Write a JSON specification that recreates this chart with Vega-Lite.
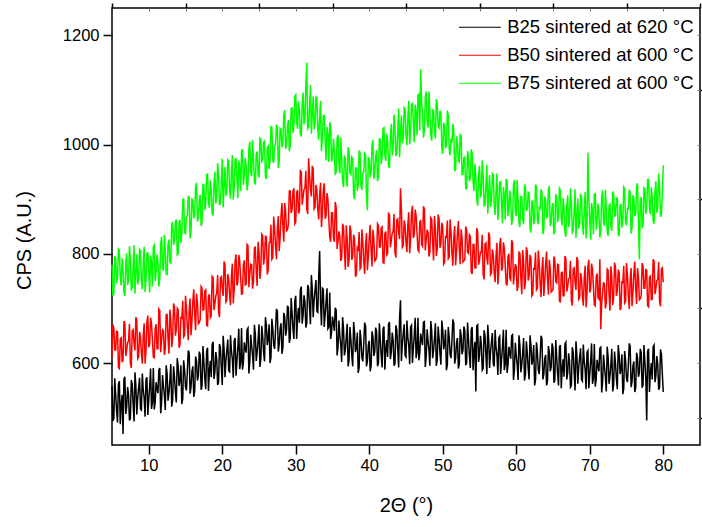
{
"$schema": "https://vega.github.io/schema/vega-lite/v6.json",
"width": 588, "height": 437,
"autosize": {"type": "none"},
"padding": {"left": 112, "top": 8, "right": 2, "bottom": 82},
"config": {
  "view": {"stroke": "#000000", "strokeWidth": 1.5},
  "font": "Liberation Sans",
  "axis": {"labelFont": "Liberation Sans", "titleFont": "Liberation Sans", "labelColor": "#000000", "titleColor": "#000000", "tickColor": "#000000", "grid": false, "domain": false, "titleFontWeight": "normal"}
},
"datasets": {
"ax": [{"x": 5, "y": 450}],
"xrd": [
{"x":5,"B25":558,"B50":610,"B75":780},{"x":5.25,"B25":499,"B50":664,"B75":727},{"x":5.5,"B25":543,"B50":624,"B75":792},{"x":5.75,"B25":491,"B50":657,"B75":757},
{"x":6,"B25":567,"B50":590,"B75":807},{"x":6.25,"B25":525,"B50":646,"B75":742},{"x":6.5,"B25":470,"B50":604,"B75":773},{"x":6.75,"B25":575,"B50":673,"B75":723},
{"x":7,"B25":520,"B50":624,"B75":801},{"x":7.25,"B25":542,"B50":640,"B75":754},{"x":7.5,"B25":499,"B50":600,"B75":789},{"x":7.75,"B25":561,"B50":659,"B75":738},
{"x":8,"B25":493,"B50":636,"B75":816},{"x":8.25,"B25":557,"B50":684,"B75":767},{"x":8.5,"B25":536,"B50":608,"B75":744},{"x":8.75,"B25":573,"B50":657,"B75":808},
{"x":9,"B25":514,"B50":617,"B75":753},{"x":9.25,"B25":551,"B50":650,"B75":781},{"x":9.5,"B25":502,"B50":599,"B75":730},{"x":9.75,"B25":574,"B50":675,"B75":801},
{"x":10,"B25":533,"B50":629,"B75":766},{"x":10.25,"B25":590,"B50":683,"B75":797},{"x":10.5,"B25":528,"B50":643,"B75":740},{"x":10.75,"B25":515,"B50":610,"B75":816},
{"x":11,"B25":565,"B50":671,"B75":766},{"x":11.25,"B25":545,"B50":626,"B75":784},{"x":11.5,"B25":591,"B50":696,"B75":755},{"x":11.75,"B25":529,"B50":643,"B75":831},
{"x":12,"B25":558,"B50":659,"B75":769},{"x":12.25,"B25":514,"B50":627,"B75":804},{"x":12.5,"B25":580,"B50":689,"B75":762},{"x":12.75,"B25":546,"B50":617,"B75":826},
{"x":13,"B25":598,"B50":679,"B75":783},{"x":13.25,"B25":533,"B50":646,"B75":857},{"x":13.5,"B25":575,"B50":703,"B75":825},{"x":13.75,"B25":528,"B50":661,"B75":863},
{"x":14,"B25":594,"B50":697,"B75":800},{"x":14.25,"B25":569,"B50":634,"B75":862},{"x":14.5,"B25":525,"B50":682,"B75":836},{"x":14.75,"B25":605,"B50":648,"B75":900},
{"x":15,"B25":557,"B50":723,"B75":837},{"x":15.25,"B25":584,"B50":666,"B75":870},{"x":15.5,"B25":618,"B50":696,"B75":904},{"x":15.75,"B25":556,"B50":651,"B75":840},
{"x":16,"B25":594,"B50":713,"B75":898},{"x":16.25,"B25":548,"B50":689,"B75":872},{"x":16.5,"B25":603,"B50":727,"B75":930},{"x":16.75,"B25":577,"B50":672,"B75":867},
{"x":17,"B25":615,"B50":680,"B75":908},{"x":17.25,"B25":558,"B50":737,"B75":858},{"x":17.5,"B25":602,"B50":698,"B75":926},{"x":17.75,"B25":552,"B50":734,"B75":893},
{"x":18,"B25":628,"B50":668,"B75":946},{"x":18.25,"B25":587,"B50":726,"B75":884},{"x":18.5,"B25":574,"B50":686,"B75":917},{"x":18.75,"B25":639,"B50":757,"B75":870},
{"x":19,"B25":584,"B50":709,"B75":950},{"x":19.25,"B25":607,"B50":729,"B75":906},{"x":19.5,"B25":565,"B50":693,"B75":943},{"x":19.75,"B25":628,"B50":756,"B75":894},
{"x":20,"B25":560,"B50":736,"B75":974},{"x":20.25,"B25":625,"B50":786,"B75":927},{"x":20.5,"B25":605,"B50":712,"B75":906},{"x":20.75,"B25":643,"B50":763,"B75":972},
{"x":21,"B25":584,"B50":724,"B75":919},{"x":21.25,"B25":622,"B50":759,"B75":949},{"x":21.5,"B25":573,"B50":709,"B75":899},{"x":21.75,"B25":646,"B50":787,"B75":973},
{"x":22,"B25":605,"B50":742,"B75":939},{"x":22.25,"B25":663,"B50":798,"B75":971},{"x":22.5,"B25":601,"B50":758,"B75":915},{"x":22.75,"B25":588,"B50":727,"B75":992},
{"x":23,"B25":638,"B50":788,"B75":943},{"x":23.25,"B25":619,"B50":744,"B75":960},{"x":23.5,"B25":664,"B50":815,"B75":930},{"x":23.75,"B25":603,"B50":763,"B75":1005},
{"x":24,"B25":631,"B50":780,"B75":942},{"x":24.25,"B25":588,"B50":749,"B75":973},{"x":24.5,"B25":653,"B50":812,"B75":927},{"x":24.75,"B25":620,"B50":741,"B75":987},
{"x":25,"B25":671,"B50":804,"B75":940},{"x":25.25,"B25":607,"B50":773,"B75":1010},{"x":25.5,"B25":649,"B50":833,"B75":972},{"x":25.75,"B25":603,"B50":793,"B75":1006},
{"x":26,"B25":669,"B50":831,"B75":937},{"x":26.25,"B25":644,"B50":771,"B75":997},{"x":26.5,"B25":600,"B50":821,"B75":970},{"x":26.75,"B25":681,"B50":790,"B75":1032},
{"x":27,"B25":633,"B50":868,"B75":967},{"x":27.25,"B25":660,"B50":814,"B75":1000},{"x":27.5,"B25":695,"B50":847,"B75":1033},{"x":27.75,"B25":634,"B50":805,"B75":970},
{"x":28,"B25":673,"B50":871,"B75":1028},{"x":28.25,"B25":628,"B50":851,"B75":1004},{"x":28.5,"B25":685,"B50":893,"B75":1063},{"x":28.75,"B25":661,"B50":842,"B75":1002},
{"x":29,"B25":701,"B50":855,"B75":1045},{"x":29.25,"B25":646,"B50":915,"B75":997},{"x":29.5,"B25":692,"B50":881,"B75":1067},{"x":29.75,"B25":644,"B50":920,"B75":1036},
{"x":30,"B25":723,"B50":858,"B75":1091},{"x":30.25,"B25":684,"B50":917,"B75":1029},{"x":30.5,"B25":674,"B50":879,"B75":1062},{"x":30.75,"B25":740,"B50":950,"B75":1015},
{"x":31,"B25":688,"B50":904,"B75":1095},{"x":31.25,"B25":712,"B50":920,"B75":1048},{"x":31.5,"B25":673,"B50":882,"B75":1150},{"x":31.75,"B25":737,"B50":975,"B75":1032},
{"x":32,"B25":671,"B50":918,"B75":1109},{"x":32.25,"B25":735,"B50":961,"B75":1056},{"x":32.5,"B25":715,"B50":882,"B75":1028},{"x":32.75,"B25":752,"B50":926,"B75":1087},
{"x":33,"B25":693,"B50":881,"B75":1027},{"x":33.25,"B25":805,"B50":907,"B75":1048},{"x":33.5,"B25":669,"B50":849,"B75":988},{"x":33.75,"B25":735,"B50":917,"B75":1052},
{"x":34,"B25":688,"B50":864,"B75":1008},{"x":34.25,"B25":737,"B50":911,"B75":1032},{"x":34.5,"B25":666,"B50":863,"B75":968},{"x":34.75,"B25":644,"B50":822,"B75":1035},
{"x":35,"B25":685,"B50":875,"B75":978},{"x":35.25,"B25":659,"B50":822,"B75":988},{"x":35.5,"B25":697,"B50":885,"B75":950},{"x":35.75,"B25":629,"B50":823,"B75":1018},
{"x":36,"B25":650,"B50":831,"B75":947},{"x":36.25,"B25":602,"B50":793,"B75":973},{"x":36.5,"B25":663,"B50":849,"B75":922},{"x":36.75,"B25":625,"B50":771,"B75":975},
{"x":37,"B25":672,"B50":826,"B75":923},{"x":37.25,"B25":605,"B50":789,"B75":988},{"x":37.5,"B25":643,"B50":842,"B75":945},{"x":37.75,"B25":594,"B50":796,"B75":974},
{"x":38,"B25":656,"B50":827,"B75":900},{"x":38.25,"B25":629,"B50":762,"B75":957},{"x":38.5,"B25":582,"B50":808,"B75":926},{"x":38.75,"B25":661,"B50":772,"B75":985},
{"x":39,"B25":610,"B50":845,"B75":917},{"x":39.25,"B25":635,"B50":787,"B75":949},{"x":39.5,"B25":668,"B50":816,"B75":981},{"x":39.75,"B25":604,"B50":770,"B75":880},
{"x":40,"B25":641,"B50":831,"B75":973},{"x":40.25,"B25":594,"B50":806,"B75":949},{"x":40.5,"B25":648,"B50":844,"B75":1008},{"x":40.75,"B25":621,"B50":787,"B75":947},
{"x":41,"B25":658,"B50":795,"B75":990},{"x":41.25,"B25":600,"B50":852,"B75":941},{"x":41.5,"B25":643,"B50":813,"B75":1010},{"x":41.75,"B25":592,"B50":849,"B75":977},
{"x":42,"B25":667,"B50":783,"B75":1031},{"x":42.25,"B25":625,"B50":841,"B75":970},{"x":42.5,"B25":611,"B50":801,"B75":1004},{"x":42.75,"B25":675,"B50":872,"B75":957},
{"x":43,"B25":620,"B50":824,"B75":1038},{"x":43.25,"B25":642,"B50":841,"B75":995},{"x":43.5,"B25":599,"B50":802,"B75":1033},{"x":43.75,"B25":661,"B50":862,"B75":985},
{"x":44,"B25":592,"B50":840,"B75":1066},{"x":44.25,"B25":715,"B50":920,"B75":1021},{"x":44.5,"B25":635,"B50":812,"B75":1002},{"x":44.75,"B25":671,"B50":861,"B75":1068},
{"x":45,"B25":611,"B50":821,"B75":1017},{"x":45.25,"B25":647,"B50":853,"B75":1048},{"x":45.5,"B25":598,"B50":801,"B75":1000},{"x":45.75,"B25":669,"B50":876,"B75":1074},
{"x":46,"B25":627,"B50":829,"B75":1041},{"x":46.25,"B25":683,"B50":881,"B75":1073},{"x":46.5,"B25":620,"B50":839,"B75":1017},{"x":46.75,"B25":605,"B50":804,"B75":1092},
{"x":47,"B25":654,"B50":862,"B75":1138},{"x":47.25,"B25":633,"B50":814,"B75":1057},{"x":47.5,"B25":676,"B50":882,"B75":1025},{"x":47.75,"B25":613,"B50":826,"B75":1097},
{"x":48,"B25":640,"B50":839,"B75":1031},{"x":48.25,"B25":595,"B50":804,"B75":1058},{"x":48.5,"B25":658,"B50":863,"B75":1007},{"x":48.75,"B25":623,"B50":788,"B75":1062},
{"x":49,"B25":673,"B50":846,"B75":1011},{"x":49.25,"B25":606,"B50":809,"B75":1074},{"x":49.5,"B25":646,"B50":864,"B75":1030},{"x":49.75,"B25":597,"B50":818,"B75":1058},
{"x":50,"B25":661,"B50":850,"B75":983},{"x":50.25,"B25":634,"B50":784,"B75":1035},{"x":50.5,"B25":587,"B50":829,"B75":999},{"x":50.75,"B25":666,"B50":791,"B75":1053},
{"x":51,"B25":616,"B50":863,"B75":980},{"x":51.25,"B25":641,"B50":802,"B75":1003},{"x":51.5,"B25":673,"B50":829,"B75":1027},{"x":51.75,"B25":609,"B50":779,"B75":955},
{"x":52,"B25":646,"B50":838,"B75":1003},{"x":52.25,"B25":598,"B50":810,"B75":968},{"x":52.5,"B25":651,"B50":845,"B75":1016},{"x":52.75,"B25":623,"B50":785,"B75":945},
{"x":53,"B25":660,"B50":790,"B75":977},{"x":53.25,"B25":601,"B50":843,"B75":919},{"x":53.5,"B25":643,"B50":801,"B75":979},{"x":53.75,"B25":591,"B50":832,"B75":939},
{"x":54,"B25":666,"B50":763,"B75":984},{"x":54.25,"B25":622,"B50":817,"B75":915},{"x":54.5,"B25":548,"B50":774,"B75":941},{"x":54.75,"B25":670,"B50":840,"B75":888},
{"x":55,"B25":614,"B50":789,"B75":961},{"x":55.25,"B25":634,"B50":803,"B75":911},{"x":55.5,"B25":590,"B50":762,"B75":942},{"x":55.75,"B25":650,"B50":818,"B75":889},
{"x":56,"B25":580,"B50":793,"B75":963},{"x":56.25,"B25":642,"B50":839,"B75":912},{"x":56.5,"B25":620,"B50":762,"B75":886},{"x":56.75,"B25":655,"B50":808,"B75":947},
{"x":57,"B25":594,"B50":766,"B75":889},{"x":57.25,"B25":629,"B50":797,"B75":915},{"x":57.5,"B25":578,"B50":744,"B75":862},{"x":57.75,"B25":649,"B50":817,"B75":931},
{"x":58,"B25":606,"B50":769,"B75":893},{"x":58.25,"B25":661,"B50":821,"B75":922},{"x":58.5,"B25":598,"B50":778,"B75":863},{"x":58.75,"B25":582,"B50":742,"B75":935},
{"x":59,"B25":630,"B50":800,"B75":883},{"x":59.25,"B25":608,"B50":752,"B75":897},{"x":59.5,"B25":652,"B50":820,"B75":864},{"x":59.75,"B25":588,"B50":763,"B75":935},
{"x":60,"B25":614,"B50":776,"B75":869},{"x":60.25,"B25":569,"B50":741,"B75":897},{"x":60.5,"B25":632,"B50":801,"B75":849},{"x":60.75,"B25":597,"B50":726,"B75":905},
{"x":61,"B25":646,"B50":785,"B75":855},{"x":61.25,"B25":579,"B50":749,"B75":921},{"x":61.5,"B25":619,"B50":804,"B75":881},{"x":61.75,"B25":570,"B50":759,"B75":911},
{"x":62,"B25":633,"B50":792,"B75":839},{"x":62.25,"B25":606,"B50":726,"B75":896},{"x":62.5,"B25":559,"B50":771,"B75":864},{"x":62.75,"B25":638,"B50":734,"B75":923},
{"x":63,"B25":587,"B50":806,"B75":854},{"x":63.25,"B25":611,"B50":745,"B75":883},{"x":63.5,"B25":644,"B50":772,"B75":912},{"x":63.75,"B25":579,"B50":723,"B75":845},
{"x":64,"B25":615,"B50":782,"B75":898},{"x":64.25,"B25":567,"B50":754,"B75":869},{"x":64.5,"B25":620,"B50":789,"B75":922},{"x":64.75,"B25":592,"B50":730,"B75":856},
{"x":65,"B25":628,"B50":735,"B75":893},{"x":65.25,"B25":569,"B50":789,"B75":840},{"x":65.5,"B25":611,"B50":747,"B75":904},{"x":65.75,"B25":559,"B50":780,"B75":868},
{"x":66,"B25":633,"B50":711,"B75":917},{"x":66.25,"B25":590,"B50":766,"B75":852},{"x":66.5,"B25":575,"B50":723,"B75":881},{"x":66.75,"B25":638,"B50":791,"B75":831},
{"x":67,"B25":582,"B50":740,"B75":907},{"x":67.25,"B25":603,"B50":755,"B75":860},{"x":67.5,"B25":559,"B50":714,"B75":893},{"x":67.75,"B25":620,"B50":772,"B75":842},
{"x":68,"B25":550,"B50":747,"B75":918},{"x":68.25,"B25":613,"B50":794,"B75":869},{"x":68.5,"B25":592,"B50":717,"B75":846},{"x":68.75,"B25":627,"B50":765,"B75":908},
{"x":69,"B25":567,"B50":723,"B75":853},{"x":69.25,"B25":603,"B50":755,"B75":881},{"x":69.5,"B25":552,"B50":702,"B75":828},{"x":69.75,"B25":623,"B50":777,"B75":985},
{"x":70,"B25":580,"B50":729,"B75":863},{"x":70.25,"B25":636,"B50":782,"B75":893},{"x":70.5,"B25":572,"B50":739,"B75":836},{"x":70.75,"B25":557,"B50":705,"B75":910},
{"x":71,"B25":606,"B50":764,"B75":859},{"x":71.25,"B25":585,"B50":717,"B75":874},{"x":71.5,"B25":629,"B50":662,"B75":843},{"x":71.75,"B25":566,"B50":730,"B75":916},
{"x":72,"B25":593,"B50":744,"B75":851},{"x":72.25,"B25":548,"B50":710,"B75":881},{"x":72.5,"B25":611,"B50":770,"B75":833},{"x":72.75,"B25":576,"B50":696,"B75":891},
{"x":73,"B25":626,"B50":756,"B75":842},{"x":73.25,"B25":560,"B50":721,"B75":910},{"x":73.5,"B25":600,"B50":776,"B75":870},{"x":73.75,"B25":552,"B50":732,"B75":902},
{"x":74,"B25":616,"B50":766,"B75":832},{"x":74.25,"B25":589,"B50":701,"B75":890},{"x":74.5,"B25":543,"B50":746,"B75":859},{"x":74.75,"B25":622,"B50":710,"B75":919},
{"x":75,"B25":572,"B50":783,"B75":852},{"x":75.25,"B25":597,"B50":723,"B75":882},{"x":75.5,"B25":630,"B50":752,"B75":913},{"x":75.75,"B25":566,"B50":704,"B75":847},
{"x":76,"B25":603,"B50":764,"B75":902},{"x":76.25,"B25":555,"B50":737,"B75":874},{"x":76.5,"B25":610,"B50":774,"B75":929},{"x":76.75,"B25":582,"B50":716,"B75":790},
{"x":77,"B25":619,"B50":723,"B75":904},{"x":77.25,"B25":560,"B50":777,"B75":852},{"x":77.5,"B25":603,"B50":737,"B75":919},{"x":77.75,"B25":495,"B50":770,"B75":884},
{"x":78,"B25":626,"B50":703,"B75":936},{"x":78.25,"B25":583,"B50":759,"B75":872},{"x":78.5,"B25":570,"B50":717,"B75":903},{"x":78.75,"B25":633,"B50":786,"B75":855},
{"x":79,"B25":577,"B50":737,"B75":933},{"x":79.25,"B25":598,"B50":753,"B75":887},{"x":79.5,"B25":555,"B50":713,"B75":922},{"x":79.75,"B25":616,"B50":772,"B75":873},
{"x":80,"B25":547,"B50":748,"B75":962},
{"x":5.125,"B25":494,"B50":670,"B75":723},{"x":5.375,"B25":572,"B50":624,"B75":796},{"x":5.625,"B25":513,"B50":658,"B75":746},{"x":5.875,"B25":561,"B50":592,"B75":809},
{"x":6.125,"B25":488,"B50":644,"B75":756},{"x":6.375,"B25":542,"B50":603,"B75":792},{"x":6.625,"B25":571,"B50":677,"B75":730},{"x":6.875,"B25":507,"B50":613,"B75":781},
{"x":7.125,"B25":556,"B50":638,"B75":743},{"x":7.375,"B25":495,"B50":672,"B75":814},{"x":7.625,"B25":569,"B50":591,"B75":735},{"x":7.875,"B25":525,"B50":661,"B75":774},
{"x":8.125,"B25":583,"B50":623,"B75":727},{"x":8.375,"B25":506,"B50":678,"B75":799},{"x":8.625,"B25":555,"B50":611,"B75":754},{"x":8.875,"B25":516,"B50":648,"B75":806},
{"x":9.125,"B25":581,"B50":599,"B75":735},{"x":9.375,"B25":536,"B50":673,"B75":813},{"x":9.625,"B25":570,"B50":624,"B75":754},{"x":9.875,"B25":505,"B50":687,"B75":802},
{"x":10.125,"B25":557,"B50":635,"B75":729},{"x":10.375,"B25":516,"B50":672,"B75":783},{"x":10.625,"B25":591,"B50":611,"B75":813},{"x":10.875,"B25":528,"B50":663,"B75":750},
{"x":11.125,"B25":553,"B50":626,"B75":799},{"x":11.375,"B25":587,"B50":699,"B75":740},{"x":11.625,"B25":508,"B50":620,"B75":817},{"x":11.875,"B25":578,"B50":661,"B75":775},
{"x":12.125,"B25":541,"B50":615,"B75":835},{"x":12.375,"B25":596,"B50":689,"B75":763},{"x":12.625,"B25":531,"B50":645,"B75":818},{"x":12.875,"B25":568,"B50":698,"B75":785},
{"x":13.125,"B25":520,"B50":629,"B75":855},{"x":13.375,"B25":594,"B50":709,"B75":816},{"x":13.625,"B25":546,"B50":650,"B75":857},{"x":13.875,"B25":609,"B50":700,"B75":798},
{"x":14.125,"B25":558,"B50":628,"B75":857},{"x":14.375,"B25":596,"B50":683,"B75":820},{"x":14.625,"B25":535,"B50":714,"B75":899},{"x":14.875,"B25":587,"B50":651,"B75":839},
{"x":15.125,"B25":550,"B50":701,"B75":868},{"x":15.375,"B25":623,"B50":642,"B75":905},{"x":15.625,"B25":544,"B50":718,"B75":828},{"x":15.875,"B25":585,"B50":676,"B75":900},
{"x":16.125,"B25":538,"B50":735,"B75":865},{"x":16.375,"B25":612,"B50":660,"B75":922},{"x":16.625,"B25":568,"B50":711,"B75":859},{"x":16.875,"B25":621,"B50":674,"B75":898},
{"x":17.125,"B25":551,"B50":740,"B75":851},{"x":17.375,"B25":631,"B50":697,"B75":927},{"x":17.625,"B25":572,"B50":732,"B75":880},{"x":17.875,"B25":622,"B50":669,"B75":945},
{"x":18.125,"B25":549,"B50":722,"B75":895},{"x":18.375,"B25":604,"B50":683,"B75":934},{"x":18.625,"B25":634,"B50":759,"B75":874},{"x":18.875,"B25":571,"B50":697,"B75":928},
{"x":19.125,"B25":620,"B50":723,"B75":892},{"x":19.375,"B25":560,"B50":761,"B75":966},{"x":19.625,"B25":635,"B50":684,"B75":889},{"x":19.875,"B25":592,"B50":758,"B75":930},
{"x":20.125,"B25":650,"B50":723,"B75":885},{"x":20.375,"B25":574,"B50":780,"B75":959},{"x":20.625,"B25":624,"B50":715,"B75":916},{"x":20.875,"B25":586,"B50":754,"B75":970},
{"x":21.125,"B25":651,"B50":706,"B75":901},{"x":21.375,"B25":607,"B50":782,"B75":981},{"x":21.625,"B25":641,"B50":734,"B75":923},{"x":21.875,"B25":577,"B50":799,"B75":974},
{"x":22.125,"B25":629,"B50":748,"B75":902},{"x":22.375,"B25":589,"B50":787,"B75":957},{"x":22.625,"B25":664,"B50":726,"B75":988},{"x":22.875,"B25":601,"B50":780,"B75":926},
{"x":23.125,"B25":626,"B50":743,"B75":976},{"x":23.375,"B25":661,"B50":817,"B75":916},{"x":23.625,"B25":581,"B50":739,"B75":992},{"x":23.875,"B25":652,"B50":781,"B75":949},
{"x":24.125,"B25":614,"B50":736,"B75":1008},{"x":24.375,"B25":670,"B50":811,"B75":932},{"x":24.625,"B25":604,"B50":768,"B75":983},{"x":24.875,"B25":642,"B50":822,"B75":946},
{"x":25.125,"B25":593,"B50":754,"B75":1012},{"x":25.375,"B25":668,"B50":836,"B75":969},{"x":25.625,"B25":620,"B50":780,"B75":1004},{"x":25.875,"B25":684,"B50":832,"B75":941},
{"x":26.125,"B25":633,"B50":762,"B75":994},{"x":26.375,"B25":671,"B50":820,"B75":955},{"x":26.625,"B25":610,"B50":853,"B75":1033},{"x":26.875,"B25":663,"B50":793,"B75":971},
{"x":27.125,"B25":626,"B50":846,"B75":998},{"x":27.375,"B25":699,"B50":790,"B75":1035},{"x":27.625,"B25":621,"B50":869,"B75":957},{"x":27.875,"B25":663,"B50":830,"B75":1030},
{"x":28.125,"B25":617,"B50":893,"B75":995},{"x":28.375,"B25":692,"B50":822,"B75":1054},{"x":28.625,"B25":650,"B50":877,"B75":992},{"x":28.875,"B25":705,"B50":844,"B75":1033},
{"x":29.125,"B25":637,"B50":915,"B75":988},{"x":29.375,"B25":719,"B50":875,"B75":1066},{"x":29.625,"B25":662,"B50":915,"B75":1021},{"x":29.875,"B25":714,"B50":855,"B75":1088},
{"x":30.125,"B25":644,"B50":912,"B75":1040},{"x":30.375,"B25":701,"B50":874,"B75":1079},{"x":30.625,"B25":734,"B50":952,"B75":1019},{"x":30.875,"B25":672,"B50":890,"B75":1073},
{"x":31.125,"B25":724,"B50":918,"B75":1037},{"x":31.375,"B25":665,"B50":952,"B75":1108},{"x":31.625,"B25":743,"B50":873,"B75":1029},{"x":31.875,"B25":701,"B50":943,"B75":1068},
{"x":32.125,"B25":761,"B50":905,"B75":1020},{"x":32.375,"B25":684,"B50":955,"B75":1088},{"x":32.625,"B25":734,"B50":885,"B75":1038},{"x":32.875,"B25":695,"B50":917,"B75":1085},
{"x":33.125,"B25":760,"B50":863,"B75":1009},{"x":33.375,"B25":709,"B50":930,"B75":1080},{"x":33.625,"B25":737,"B50":874,"B75":1012},{"x":33.875,"B25":666,"B50":929,"B75":1053},
{"x":34.125,"B25":712,"B50":870,"B75":971},{"x":34.375,"B25":663,"B50":900,"B75":1018},{"x":34.625,"B25":729,"B50":831,"B75":1041},{"x":34.875,"B25":657,"B50":875,"B75":969},
{"x":35.125,"B25":673,"B50":830,"B75":1011},{"x":35.375,"B25":701,"B50":895,"B75":944},{"x":35.625,"B25":614,"B50":809,"B75":1012},{"x":35.875,"B25":678,"B50":841,"B75":962},
{"x":36.125,"B25":633,"B50":787,"B75":1013},{"x":36.375,"B25":684,"B50":855,"B75":932},{"x":36.625,"B25":614,"B50":805,"B75":978},{"x":36.875,"B25":647,"B50":852,"B75":934},
{"x":37.125,"B25":594,"B50":776,"B75":995},{"x":37.375,"B25":666,"B50":852,"B75":947},{"x":37.625,"B25":614,"B50":789,"B75":977},{"x":37.875,"B25":675,"B50":835,"B75":909},
{"x":38.125,"B25":620,"B50":758,"B75":957},{"x":38.375,"B25":656,"B50":811,"B75":915},{"x":38.625,"B25":592,"B50":840,"B75":989},{"x":38.875,"B25":643,"B50":775,"B75":924},
{"x":39.125,"B25":603,"B50":823,"B75":948},{"x":39.375,"B25":674,"B50":763,"B75":984},{"x":39.625,"B25":594,"B50":838,"B75":905},{"x":39.875,"B25":633,"B50":795,"B75":977},
{"x":40.125,"B25":585,"B50":853,"B75":940},{"x":40.375,"B25":658,"B50":777,"B75":999},{"x":40.625,"B25":613,"B50":828,"B75":937},{"x":40.875,"B25":665,"B50":789,"B75":978},
{"x":41.125,"B25":594,"B50":855,"B75":933},{"x":41.375,"B25":673,"B50":812,"B75":1010},{"x":41.625,"B25":613,"B50":847,"B75":964},{"x":41.875,"B25":662,"B50":784,"B75":1029},
{"x":42.125,"B25":588,"B50":837,"B75":980},{"x":42.375,"B25":642,"B50":798,"B75":1020},{"x":42.625,"B25":671,"B50":874,"B75":961},{"x":42.875,"B25":607,"B50":812,"B75":1015},
{"x":43.125,"B25":656,"B50":838,"B75":980},{"x":43.375,"B25":595,"B50":873,"B75":1055},{"x":43.625,"B25":669,"B50":793,"B75":979},{"x":43.875,"B25":625,"B50":864,"B75":1021},
{"x":44.125,"B25":682,"B50":827,"B75":977},{"x":44.375,"B25":604,"B50":882,"B75":1053},{"x":44.625,"B25":654,"B50":815,"B75":1012},{"x":44.875,"B25":614,"B50":852,"B75":1066},
{"x":45.125,"B25":678,"B50":803,"B75":999},{"x":45.375,"B25":632,"B50":876,"B75":1080},{"x":45.625,"B25":666,"B50":826,"B75":1024},{"x":45.875,"B25":600,"B50":888,"B75":1075},
{"x":46.125,"B25":651,"B50":835,"B75":1004},{"x":46.375,"B25":609,"B50":870,"B75":1059},{"x":46.625,"B25":683,"B50":807,"B75":1090},{"x":46.875,"B25":618,"B50":857,"B75":1026},
{"x":47.125,"B25":642,"B50":817,"B75":1076},{"x":47.375,"B25":675,"B50":887,"B75":1013},{"x":47.625,"B25":593,"B50":806,"B75":1087},{"x":47.875,"B25":662,"B50":844,"B75":1041},
{"x":48.125,"B25":623,"B50":795,"B75":1097},{"x":48.375,"B25":677,"B50":866,"B75":1017},{"x":48.625,"B25":609,"B50":819,"B75":1063},{"x":48.875,"B25":645,"B50":869,"B75":1021},
{"x":49.125,"B25":595,"B50":796,"B75":1083},{"x":49.375,"B25":667,"B50":872,"B75":1033},{"x":49.625,"B25":617,"B50":811,"B75":1062},{"x":49.875,"B25":678,"B50":857,"B75":993},
{"x":50.125,"B25":625,"B50":781,"B75":1040},{"x":50.375,"B25":661,"B50":833,"B75":993},{"x":50.625,"B25":597,"B50":861,"B75":1062},{"x":50.875,"B25":648,"B50":794,"B75":992},
{"x":51.125,"B25":609,"B50":841,"B75":1011},{"x":51.375,"B25":680,"B50":778,"B75":1038},{"x":51.625,"B25":599,"B50":851,"B75":951},{"x":51.875,"B25":638,"B50":804,"B75":1015},
{"x":52.125,"B25":590,"B50":860,"B75":970},{"x":52.375,"B25":662,"B50":781,"B75":1018},{"x":52.625,"B25":616,"B50":829,"B75":945},{"x":52.875,"B25":667,"B50":787,"B75":976},
{"x":53.125,"B25":596,"B50":850,"B75":920},{"x":53.375,"B25":674,"B50":803,"B75":988},{"x":53.625,"B25":613,"B50":835,"B75":933},{"x":53.875,"B25":661,"B50":767,"B75":991},
{"x":54.125,"B25":587,"B50":817,"B75":933},{"x":54.375,"B25":639,"B50":774,"B75":965},{"x":54.625,"B25":668,"B50":847,"B75":898},{"x":54.875,"B25":602,"B50":780,"B75":946},
{"x":55.125,"B25":650,"B50":803,"B75":903},{"x":55.375,"B25":587,"B50":835,"B75":971},{"x":55.625,"B25":660,"B50":753,"B75":888},{"x":55.875,"B25":614,"B50":820,"B75":925},
{"x":56.125,"B25":670,"B50":780,"B75":874},{"x":56.375,"B25":591,"B50":833,"B75":944},{"x":56.625,"B25":639,"B50":765,"B75":896},{"x":56.875,"B25":598,"B50":799,"B75":945},
{"x":57.125,"B25":661,"B50":748,"B75":871},{"x":57.375,"B25":614,"B50":820,"B75":947},{"x":57.625,"B25":646,"B50":769,"B75":886},{"x":57.875,"B25":580,"B50":829,"B75":932},
{"x":58.125,"B25":630,"B50":775,"B75":856},{"x":58.375,"B25":587,"B50":810,"B75":908},{"x":58.625,"B25":661,"B50":746,"B75":936},{"x":58.875,"B25":595,"B50":795,"B75":869},
{"x":59.125,"B25":618,"B50":755,"B75":916},{"x":59.375,"B25":650,"B50":825,"B75":853},{"x":59.625,"B25":569,"B50":744,"B75":926},{"x":59.875,"B25":637,"B50":781,"B75":879},
{"x":60.125,"B25":597,"B50":732,"B75":935},{"x":60.375,"B25":651,"B50":803,"B75":856},{"x":60.625,"B25":583,"B50":757,"B75":905},{"x":60.875,"B25":619,"B50":807,"B75":864},
{"x":61.125,"B25":568,"B50":735,"B75":927},{"x":61.375,"B25":640,"B50":812,"B75":880},{"x":61.625,"B25":590,"B50":751,"B75":913},{"x":61.875,"B25":651,"B50":798,"B75":846},
{"x":62.125,"B25":597,"B50":723,"B75":896},{"x":62.375,"B25":633,"B50":775,"B75":854},{"x":62.625,"B25":569,"B50":803,"B75":927},{"x":62.875,"B25":620,"B50":737,"B75":862},
{"x":63.125,"B25":580,"B50":784,"B75":885},{"x":63.375,"B25":650,"B50":721,"B75":918},{"x":63.625,"B25":570,"B50":794,"B75":836},{"x":63.875,"B25":608,"B50":748,"B75":905},
{"x":64.125,"B25":559,"B50":804,"B75":865},{"x":64.375,"B25":631,"B50":725,"B75":919},{"x":64.625,"B25":585,"B50":773,"B75":851},{"x":64.875,"B25":636,"B50":732,"B75":887},
{"x":65.125,"B25":564,"B50":795,"B75":836},{"x":65.375,"B25":642,"B50":749,"B75":909},{"x":65.625,"B25":581,"B50":781,"B75":858},{"x":65.875,"B25":629,"B50":715,"B75":920},
{"x":66.125,"B25":554,"B50":765,"B75":866},{"x":66.375,"B25":607,"B50":723,"B75":902},{"x":66.625,"B25":635,"B50":796,"B75":838},{"x":66.875,"B25":570,"B50":731,"B75":889},
{"x":67.125,"B25":618,"B50":754,"B75":849},{"x":67.375,"B25":556,"B50":787,"B75":920},{"x":67.625,"B25":629,"B50":705,"B75":839},{"x":67.875,"B25":584,"B50":774,"B75":878},
{"x":68.125,"B25":640,"B50":734,"B75":829},{"x":68.375,"B25":562,"B50":788,"B75":901},{"x":68.625,"B25":611,"B50":720,"B75":856},{"x":68.875,"B25":570,"B50":756,"B75":906},
{"x":69.125,"B25":634,"B50":705,"B75":835},{"x":69.375,"B25":588,"B50":778,"B75":913},{"x":69.625,"B25":620,"B50":727,"B75":852},{"x":69.875,"B25":554,"B50":789,"B75":900},
{"x":70.125,"B25":604,"B50":735,"B75":826},{"x":70.375,"B25":562,"B50":771,"B75":879},{"x":70.625,"B25":635,"B50":707,"B75":909},{"x":70.875,"B25":570,"B50":758,"B75":844},
{"x":71.125,"B25":594,"B50":719,"B75":892},{"x":71.375,"B25":627,"B50":790,"B75":830},{"x":71.625,"B25":546,"B50":709,"B75":905},{"x":71.875,"B25":615,"B50":748,"B75":860},
{"x":72.125,"B25":576,"B50":700,"B75":917},{"x":72.375,"B25":630,"B50":772,"B75":840},{"x":72.625,"B25":562,"B50":726,"B75":889},{"x":72.875,"B25":598,"B50":777,"B75":850},
{"x":73.125,"B25":548,"B50":706,"B75":914},{"x":73.375,"B25":621,"B50":784,"B75":869},{"x":73.625,"B25":571,"B50":723,"B75":902},{"x":73.875,"B25":633,"B50":771,"B75":837},
{"x":74.125,"B25":580,"B50":697,"B75":889},{"x":74.375,"B25":616,"B50":750,"B75":848},{"x":74.625,"B25":553,"B50":778,"B75":922},{"x":74.875,"B25":604,"B50":713,"B75":858},
{"x":75.125,"B25":565,"B50":761,"B75":883},{"x":75.375,"B25":636,"B50":699,"B75":917},{"x":75.625,"B25":556,"B50":774,"B75":837},{"x":75.875,"B25":595,"B50":729,"B75":907},
{"x":76.125,"B25":547,"B50":786,"B75":869},{"x":76.375,"B25":619,"B50":708,"B75":924},{"x":76.625,"B25":575,"B50":758,"B75":858},{"x":76.875,"B25":626,"B50":718,"B75":896},
{"x":77.125,"B25":555,"B50":783,"B75":847},{"x":77.375,"B25":633,"B50":737,"B75":921},{"x":77.625,"B25":573,"B50":771,"B75":873},{"x":77.875,"B25":621,"B50":705,"B75":936},
{"x":78.125,"B25":547,"B50":757,"B75":885},{"x":78.375,"B25":600,"B50":716,"B75":922},{"x":78.625,"B25":630,"B50":790,"B75":860},{"x":78.875,"B25":565,"B50":726,"B75":913},
{"x":79.125,"B25":613,"B50":751,"B75":875},{"x":79.375,"B25":551,"B50":785,"B75":947},{"x":79.625,"B25":625,"B50":704,"B75":868},{"x":79.875,"B25":580,"B50":774,"B75":909}
]
},
"layer": [
{
  "data": {"name": "xrd"},
  "transform": [{"fold": ["B25", "B50", "B75"], "as": ["s", "v"]}],
  "mark": {"type": "line", "strokeWidth": 1.5},
  "encoding": {
    "x": {"field": "x", "type": "quantitative", "scale": {"domain": [5, 85], "nice": false, "zero": false},
      "axis": {"values": [10, 20, 30, 40, 50, 60, 70, 80], "format": "d", "tickSize": 9, "tickWidth": 1.5, "labelFontSize": 16.5, "labelPadding": 3, "labelFlush": false, "title": "2Θ (°)", "titleFontSize": 20, "titlePadding": 22}},
    "y": {"field": "v", "type": "quantitative", "scale": {"domain": [450, 1250], "nice": false, "zero": false},
      "axis": {"values": [600, 800, 1000, 1200], "format": "d", "tickSize": 9, "tickWidth": 1.5, "labelFontSize": 16.5, "labelPadding": 4, "labelFlush": false, "title": "CPS (A.U.)", "titleFontSize": 20, "titlePadding": 28, "titleY": 232}},
    "color": {"field": "s", "type": "nominal",
      "scale": {"domain": ["B25", "B50", "B75"], "range": ["#000000", "#ff0000", "#00ff00"]},
      "legend": {"title": null, "orient": "none", "legendX": 358.7, "legendY": 10, "padding": 0,
        "symbolType": "M-4,0H4", "symbolSize": 110, "symbolStrokeWidth": 1, "labelOffset": 18, "rowPadding": 9,
        "labelFontSize": 18.5, "labelFont": "Liberation Sans", "labelColor": "#000000", "labelLimit": 300,
        "encode": {"symbols": {"update": {"stroke": {"scale": "color", "field": "value"}}}},
        "labelExpr": "datum.label == 'B25' ? 'B25 sintered at 620 °C' : datum.label == 'B50' ? 'B50 sintered at 600 °C' : 'B75 sintered at 600 °C'"}}
  }
},
{
  "data": {"name": "ax"},
  "mark": {"type": "point", "opacity": 0},
  "encoding": {
    "x": {"field": "x", "type": "quantitative", "scale": {"domain": [5, 85], "nice": false, "zero": false},
      "axis": {"values": [5, 15, 25, 35, 45, 55, 65, 75, 85], "tickSize": 5, "tickWidth": 1.5, "labels": false, "title": null}},
    "y": {"field": "y", "type": "quantitative", "scale": {"domain": [450, 1250], "nice": false, "zero": false},
      "axis": {"values": [500, 700, 900, 1100], "tickSize": 5, "tickWidth": 1.5, "labels": false, "title": null}}
  }
},
{
  "data": {"name": "ax"},
  "mark": {"type": "point", "opacity": 0},
  "encoding": {
    "x": {"field": "x", "type": "quantitative", "scale": {"domain": [5, 85], "nice": false, "zero": false},
      "axis": {"orient": "top", "values": [10, 15, 20, 25, 30, 35, 40, 45, 50, 55, 60, 65, 70, 75, 80], "tickSize": -3, "tickWidth": 1, "tickColor": "#777777", "labels": false, "title": null}},
    "y": {"field": "y", "type": "quantitative", "scale": {"domain": [450, 1250], "nice": false, "zero": false},
      "axis": {"orient": "right", "values": [500, 600, 700, 800, 900, 1000, 1100, 1200], "tickSize": -3, "tickWidth": 1, "tickColor": "#777777", "labels": false, "title": null}}
  }
}
],
"resolve": {"axis": {"x": "independent", "y": "independent"}}
}
